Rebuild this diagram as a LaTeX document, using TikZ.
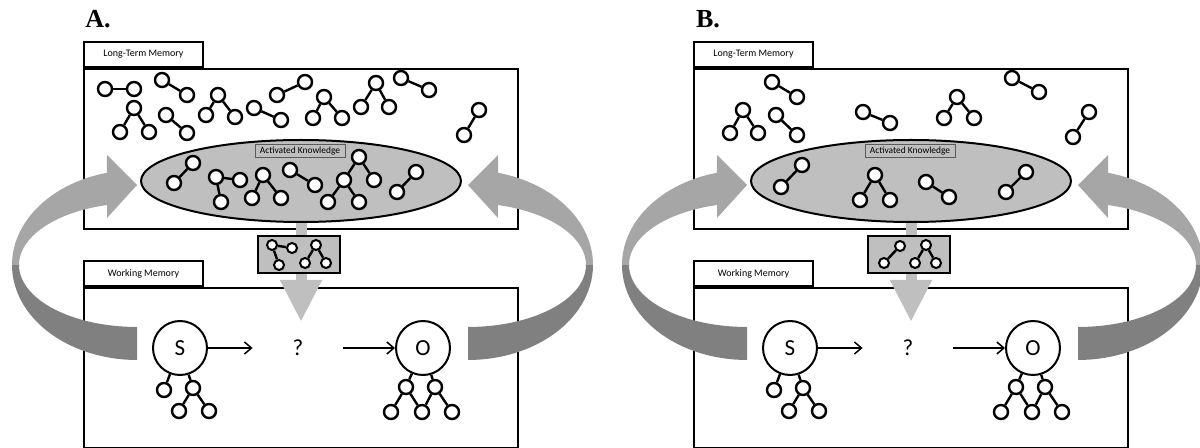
\documentclass[tikz,border=0pt]{standalone}
\usepackage{fontspec}
\setmainfont{Carlito}
\newfontfamily\headfont{Liberation Serif}
\usetikzlibrary{positioning,calc,shapes.geometric,arrows.meta,shadows}
\definecolor{ActGray}{RGB}{191,191,191}
\definecolor{ArcLight}{RGB}{166,166,166}
\definecolor{ArcDark}{RGB}{128,128,128}
\definecolor{LabelEdge}{RGB}{90,90,90}

\tikzset{
  memframe/.style={draw,line width=1pt,fill=white,inner sep=0pt,minimum width=217pt,minimum height=80pt},
  memtab/.style={draw,line width=1pt,fill=white,minimum width=59.5pt,minimum height=12.5pt,inner sep=0pt,font=\fontsize{5}{6}\selectfont},
  dot/.style={circle,draw,line width=1.2pt,fill=white,minimum size=7pt,inner sep=0pt,
    drop shadow={shadow xshift=0.7pt,shadow yshift=-0.7pt,opacity=0.25}},
  smalldot/.style={dot,minimum size=5pt,line width=1pt},
  link/.style={line width=1.2pt},
  bigdot/.style={circle,draw,line width=1pt,fill=white,minimum size=27pt,inner sep=0pt,font=\fontsize{11.5}{13}\selectfont},
  flow/.style={line width=0.75pt,-{Straight Barb[length=3.5pt,width=6pt]}},
}

% two or three linked dots: name, then centres
\newcommand{\duo}[4][dot]{\node[#1] (#2a) at (#3) {}; \node[#1] (#2b) at (#4) {};
  \draw[link] (#2a) -- (#2b);}
\newcommand{\trio}[5][dot]{\node[#1] (#2a) at (#3) {}; \node[#1] (#2b) at (#4) {};
  \node[#1] (#2c) at (#5) {}; \draw[link] (#2b) -- (#2a) -- (#2c);}

\begin{document}
\begin{tikzpicture}[x=0.5pt,y=-0.5pt]
\useasboundingbox (0,0) rectangle (1200,448);

\foreach \p/\dx in {A/0pt,B/305pt}{
\begin{scope}[xshift=\dx]
\node[font=\headfont\bfseries\fontsize{13}{15}\selectfont,inner sep=0pt] (lab\p) at (98,19) {\p.};
\node[memframe,anchor=north west] (ltm\p) at (83,68) {};
\node[memtab,anchor=south west] (ltmtab\p) at (ltm\p.north west) {Long-Term Memory};
\node[memframe,anchor=north west] (wm\p) at (83,287) {};
\node[memtab,anchor=south west] (wmtab\p) at (wm\p.north west) {Working Memory};
% big curved arrows
\fill[ArcDark] plot[domain=90:180,samples=30] ({137+125*cos(\x)},{265+95*sin(\x)})
  -- plot[domain=180:90,samples=30] ({137+118*cos(\x)},{265+62*sin(\x)}) -- cycle;
\fill[ArcLight] plot[domain=180:256.1,samples=30] ({137+125*cos(\x)},{265+95*sin(\x)})
  -- (107,155) -- (137,185) -- (107,218)
  -- plot[domain=255.3:180,samples=30] ({137+118*cos(\x)},{265+62*sin(\x)}) -- cycle;
\fill[ArcDark] plot[domain=90:180,samples=30] ({468-125*cos(\x)},{265+95*sin(\x)})
  -- plot[domain=180:90,samples=30] ({468-118*cos(\x)},{265+62*sin(\x)}) -- cycle;
\fill[ArcLight] plot[domain=180:256.1,samples=30] ({468-125*cos(\x)},{265+95*sin(\x)})
  -- (498,155) -- (468,185) -- (498,218)
  -- plot[domain=255.3:180,samples=30] ({468-118*cos(\x)},{265+62*sin(\x)}) -- cycle;
% activated knowledge
\node[ellipse,draw,line width=1pt,fill=ActGray,minimum width=160pt,minimum height=41pt] (ak\p) at (301,181) {};
\node[draw=LabelEdge,line width=0.5pt,fill=ActGray,minimum width=45pt,minimum height=6.5pt,inner sep=0pt,
  font=\fontsize{4.7}{5}\selectfont] (aklab\p) at (300,151.5) {Activated Knowledge};
\coordinate (tip\p) at (301,322);
\draw[line width=5.5pt,ActGray,-{Triangle[length=21pt,width=19.5pt]}] (ak\p.south) -- (tip\p);
\node[draw,line width=1pt,fill=ActGray,minimum width=41pt,minimum height=18.5pt,inner sep=0pt] (sel\p) at (299,254.5) {};
% working memory
\node[bigdot] (s\p) at (180,348) {S};
\node[bigdot] (o\p) at (423,348) {O};
\node[font=\fontsize{11.5}{13}\selectfont,minimum width=45pt,inner sep=0pt] (q\p) at (298,348) {?};
\draw[flow] (s\p) -- (q\p);
\draw[flow] (q\p) -- (o\p);
\node[dot] (s\p1) at (164,390) {};
\node[dot] (s\p2) at (193,388) {};
\node[dot] (s\p3) at (179,411) {};
\node[dot] (s\p4) at (209,411) {};
\draw[link] (s\p1) -- (s\p) -- (s\p2);
\draw[link] (s\p3) -- (s\p2) -- (s\p4);
\node[dot] (o\p1) at (406,387) {};
\node[dot] (o\p2) at (435,387) {};
\node[dot] (o\p3) at (391,412) {};
\node[dot] (o\p4) at (422,412) {};
\node[dot] (o\p5) at (452,412) {};
\draw[link] (o\p1) -- (o\p) -- (o\p2);
\draw[link] (o\p3) -- (o\p1) -- (o\p4) -- (o\p2) -- (o\p5);
\end{scope}}

% panel A: long-term memory
\duo{la1}{105,89}{134,89}
\duo{la2}{162,80}{187,95}
\trio{la3}{134,108}{120,132}{149,132}
\duo{la4}{166,115}{187,133}
\trio{la5}{218,95}{206,115}{235,117}
\duo{la6}{254,108}{281,120}
\duo{la7}{277,95}{305,82}
\trio{la8}{324,97}{313,118}{342,118}
\trio{la9}{376,83}{361,107}{389,107}
\duo{la10}{401,78}{429,90}
\duo{la11}{479,110}{464,135}
% panel A: activated
\duo{ea1}{193,163}{174,183}
\trio{ea2}{216,177}{240,180}{221,202}
\trio{ea3}{263,175}{252,198}{281,198}
\duo{ea4}{290,170}{315,185}
\trio{ea5}{359,157}{344,180}{374,180}
\node[dot] (ea5d) at (328,202) {};
\node[dot] (ea5e) at (359,202) {};
\draw[link] (ea5d) -- (ea5b) -- (ea5e);
\duo{ea6}{416,172}{397,192}
\trio[smalldot]{ka1}{272,245}{292,248}{279,265}
\trio[smalldot]{ka2}{316,245}{305,263}{326,263}

% panel B: long-term memory
\duo{lb1}{772,82}{797,97}
\trio{lb2}{743,110}{730,133}{758,133}
\duo{lb3}{776,115}{797,135}
\duo{lb4}{863,112}{890,123}
\trio{lb5}{957,97}{944,118}{974,118}
\duo{lb6}{1012,78}{1039,92}
\duo{lb7}{1089,112}{1073,137}
% panel B: activated
\duo{eb1}{802,165}{781,187}
\trio{eb2}{875,175}{860,200}{890,200}
\duo{eb3}{926,182}{949,197}
\duo{eb4}{1026,172}{1006,192}
\duo[smalldot]{kb1}{900,246}{884,263}
\trio[smalldot]{kb2}{926,245}{915,263}{936,263}
\end{tikzpicture}
\end{document}
